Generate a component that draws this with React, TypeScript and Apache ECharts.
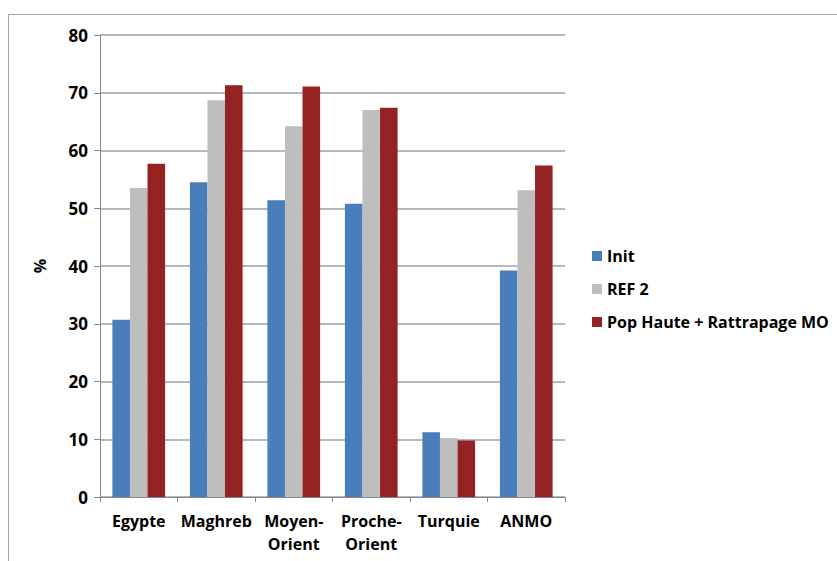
import React, { useEffect, useRef } from "react";
import * as echarts from "echarts";

const categories = ["Egypte", "Maghreb", "Moyen-\nOrient", "Proche-\nOrient", "Turquie", "ANMO"];
const initValues = [30.7, 54.5, 51.4, 50.8, 11.2, 39.2];
const ref2Values = [53.5, 68.7, 64.2, 67.0, 10.2, 53.1];
const popValues = [57.7, 71.3, 71.1, 67.4, 9.8, 57.4];
const seriesNames = ["Init", "REF 2", "Pop Haute + Rattrapage MO"];
const colors = ["#4A7EBB", "#BEBEBE", "#942222"];

const FONT = "'Open Sans', 'Noto Sans', sans-serif";

export default function App() {
  const ref = useRef<HTMLDivElement>(null);
  useEffect(() => {
    if (!ref.current) return;
    const chart = echarts.init(ref.current, undefined, { renderer: "svg" });
    const values = [initValues, ref2Values, popValues];
    chart.setOption({
      animation: false,
      backgroundColor: "#ffffff",
      graphic: [
        {
          type: "rect",
          shape: { x: 8.5, y: 14.5, width: 900, height: 600 },
          style: { fill: "none", stroke: "#a6a6a6", lineWidth: 1 },
          silent: true,
        },
      ],
      grid: { left: 100, right: 272, top: 35, bottom: 64, containLabel: false },
      legend: {
        orient: "vertical",
        left: 587,
        top: 243,
        itemWidth: 10,
        itemHeight: 10,
        itemGap: 17,
        itemStyle: { borderWidth: 0 },
        icon: "rect",
        textStyle: { fontFamily: FONT, fontWeight: "bold", fontSize: 16, color: "#000" },
        data: seriesNames,
      },
      xAxis: {
        type: "category",
        data: categories,
        axisLine: { lineStyle: { color: "#888", width: 1 } },
        axisTick: { show: true, length: 5, lineStyle: { color: "#888" } },
        axisLabel: {
          fontFamily: FONT,
          fontWeight: "bold",
          fontSize: 16,
          color: "#000",
          lineHeight: 23,
          margin: 12,
          interval: 0,
        },
      },
      yAxis: {
        type: "value",
        min: 0,
        max: 80,
        interval: 10,
        name: "%",
        nameLocation: "middle",
        nameGap: 52,
        nameRotate: 90,
        nameTextStyle: { fontFamily: FONT, fontWeight: "bold", fontSize: 16, color: "#000" },
        axisLine: { show: true, lineStyle: { color: "#888", width: 1 } },
        axisTick: { show: true, length: 6, lineStyle: { color: "#888" } },
        splitLine: { lineStyle: { color: "#a0a0a0", width: 1.5 } },
        axisLabel: {
          fontFamily: FONT,
          fontWeight: "bold",
          fontSize: 17,
          color: "#000",
          margin: 12,
        },
      },
      series: seriesNames.map((name, i) => ({
        name,
        type: "bar",
        data: values[i],
        barGap: "0%",
        barCategoryGap: "32%",
        itemStyle: { color: colors[i] },
      })),
    });
    return () => chart.dispose();
  }, []);
  return <div ref={ref} style={{ width: 837, height: 561, position: "absolute", left: 0, top: 0 }} />;
}
